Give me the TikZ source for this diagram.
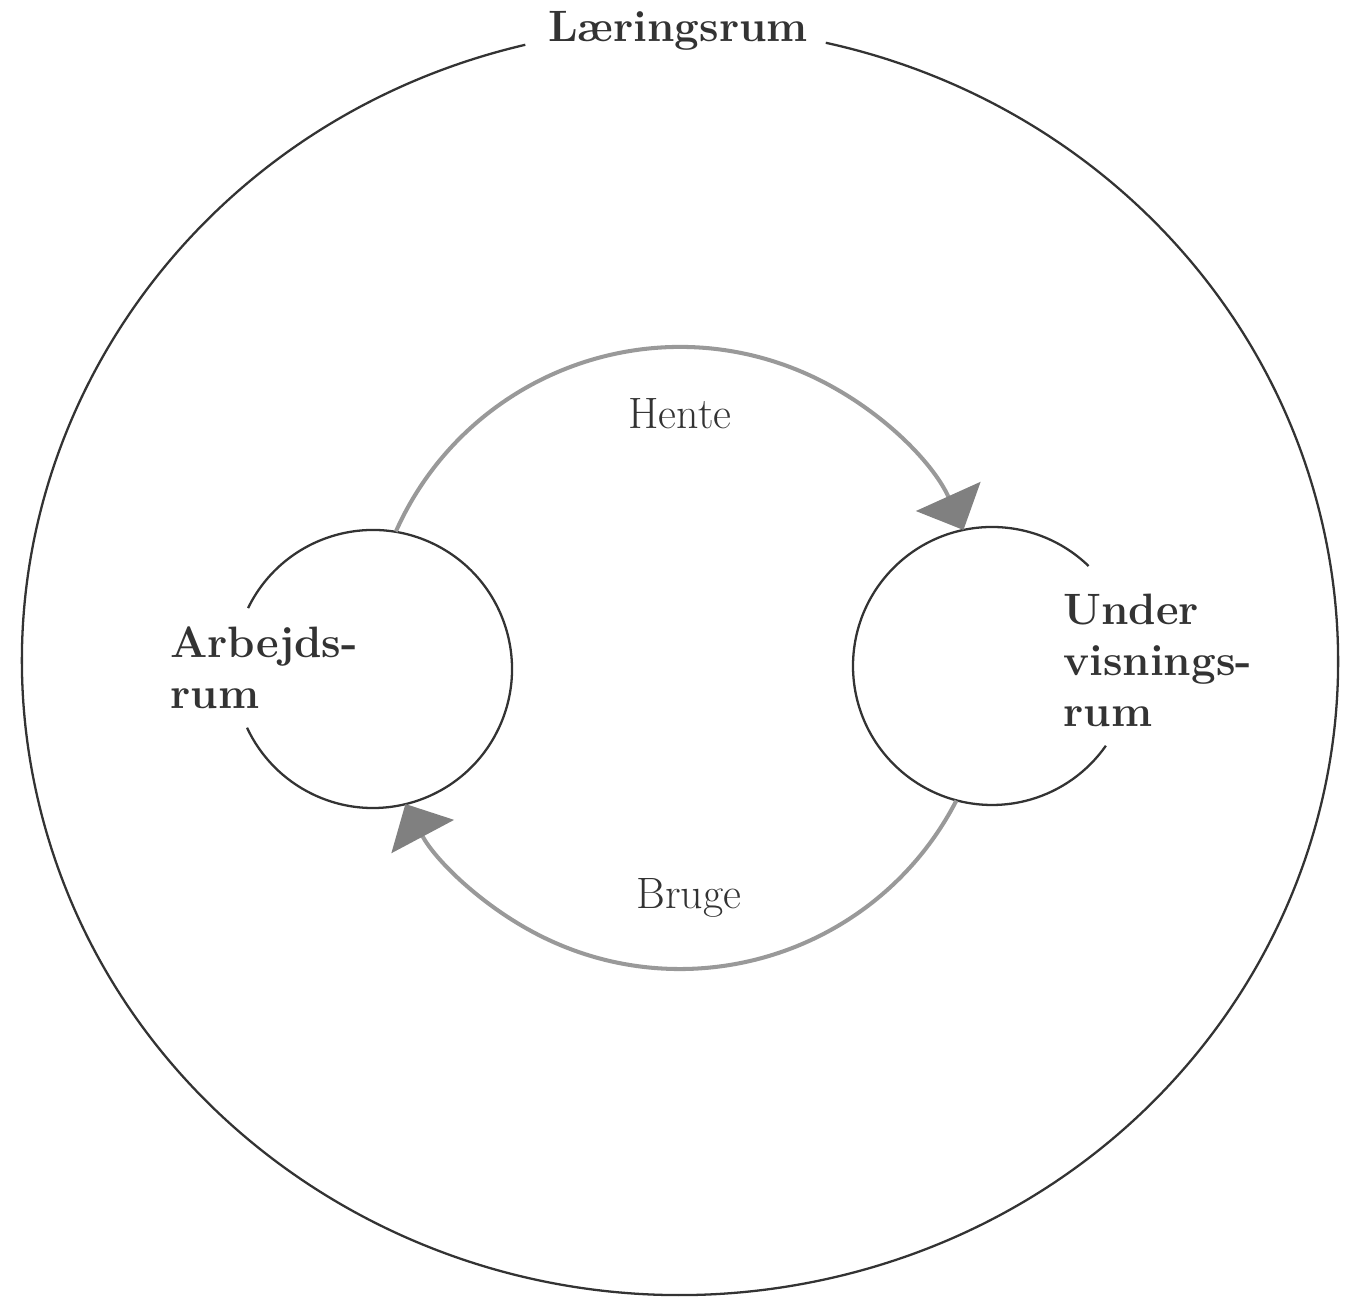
\documentclass[tikz,border=0pt]{standalone}
\usetikzlibrary{arrows.meta}
\begin{document}
\begin{tikzpicture}[x=0.02cm, y=0.02cm,
    ring/.style = {draw=black!80, line width=1.3pt},
    pil/.style = {draw=black!40, line width=2.3pt,
      -{Triangle[length=21pt, width=40pt, color=black!50]}},
    rum/.style = {font=\fontsize{25}{29}\selectfont\bfseries,
      text=black!80, align=left, inner sep=0pt},
    handling/.style = {font=\fontsize{25}{30}\selectfont,
      text=black!80, inner sep=0pt}]
  \useasboundingbox (0,0) rectangle (1349,1297);
  \coordinate (ydre) at (680,636);
  \coordinate (mid) at (680,639);
  \coordinate (arb) at (373,628);
  \coordinate (und) at (992,631);
  % det ydre rum
  \draw[ring] (ydre) ++(103.6:658 and 634)
    arc[start angle=103.6, end angle=437.2, x radius=658, y radius=634];
  \node[rum] (laering) at (678,1266) {Læringsrum};
  % de to indre rum
  \draw[ring] (arb) ++(154:139) arc[start angle=154, end angle=-155, radius=139];
  \draw[ring] (und) ++(46:139) arc[start angle=46, end angle=325, radius=139];
  \node[rum, anchor=west] (arbejds) at (170,629) {Arbejds-\\rum};
  \node[rum, anchor=west] (under) at (1063,637) {Under\\visnings-\\rum};
  % pile mellem rummene
  \coordinate (henteFra) at ([shift={(156:311)}]mid);
  \coordinate (brugeFra) at ([shift={(-27.3:311)}]mid);
  \draw[pil] (henteFra) arc[start angle=156, end angle=24.3, radius=311];
  \draw[pil] (brugeFra) arc[start angle=-27.3, end angle=-152, radius=311];
  \node[handling] (hente) at (680,883) {Hente};
  \node[handling] (bruge) at (689,399) {Bruge};
\end{tikzpicture}
\end{document}
